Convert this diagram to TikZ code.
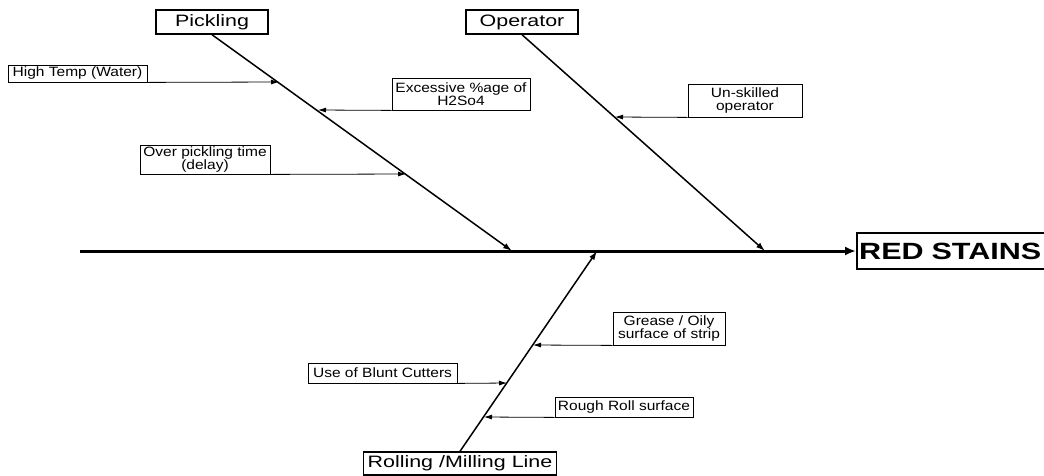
\documentclass[tikz,border=0pt]{standalone}
\usepackage{fontspec}
\setmainfont{Liberation Sans}
\newfontfamily\smf[FakeStretch=1.15]{Liberation Sans}
\newfontfamily\hdf[FakeStretch=1.3]{Liberation Sans}
\usetikzlibrary{arrows.meta}
\begin{document}
\begin{tikzpicture}[x=1pt,y=-1pt,
  cause/.style={draw,line width=0.8pt,inner sep=0pt,align=center,font=\smf\fontsize{13.5}{13.5}\selectfont},
  head/.style={draw,line width=1.4pt,inner sep=0pt,align=center,font=\hdf\fontsize{16.5}{16.5}\selectfont},
  effect/.style={draw,line width=2.4pt,inner sep=0pt,anchor=west,font=\hdf\bfseries\fontsize{23.5}{23.5}\selectfont},
  bone/.style={line width=1.5pt,-{Latex[length=9pt,width=6pt]}},
  sub/.style={line width=0.8pt,-{Latex[length=8pt,width=5pt]}},
  spine/.style={line width=3pt,-{Latex[length=11pt,width=9pt]}}]
\useasboundingbox (0,0) rectangle (1044,475);
% effect
\node[effect,minimum height=36pt,text width=260pt] (rs) at (856,251) {\hspace{2pt}RED STAINS};
\coordinate (tail) at (80,251);
% headers
\node[head,minimum width=112pt,minimum height=24pt] (pk) at (212,22) {Pickling};
\node[head,minimum width=112pt,minimum height=24pt] (op) at (522,22) {Operator};
\node[head,minimum width=193pt,minimum height=23pt] (rl) at (460,463.5) {Rolling /Milling Line};
% bone ends on spine
\coordinate (pkend) at (512,251);
\coordinate (opend) at (765,251);
\coordinate (rlend) at (597,251);
% spine and bones
\draw[spine] (tail) -- (rs.west);
\draw[bone] (pk.south) -- (pkend);
\draw[bone] (op.south) -- (opend);
\draw[bone] (rl.north) -- (rlend);
% causes
\node[cause,minimum width=139pt,minimum height=17pt] (ht) at (77.5,73.5) {High Temp (Water)};
\node[cause,minimum width=138pt,minimum height=32pt] (ex) at (461,94) {Excessive \%age of\\H2So4};
\node[cause,minimum width=130pt,minimum height=29pt] (ov) at (205,159.5) {Over pickling time\\(delay)};
\node[cause,minimum width=114pt,minimum height=33pt] (un) at (745,100.5) {Un-skilled\\operator};
\node[cause,minimum width=112pt,minimum height=33pt] (gr) at (669,328.5) {Grease / Oily\\surface of strip};
\node[cause,minimum width=149pt,minimum height=20pt] (bl) at (382.5,373) {Use of Blunt Cutters};
\node[cause,minimum width=138pt,minimum height=20pt] (ro) at (624,407) {Rough Roll surface};
% points on bones
\coordinate (htp) at (279,82);
\coordinate (exp) at (318,110);
\coordinate (ovp) at (406,174);
\coordinate (unp) at (615,117);
\coordinate (grp) at (533,345);
\coordinate (blp) at (507,383);
\coordinate (rop) at (484,417);
\draw[sub] (ht.south east) -- (htp);
\draw[sub] (ex.south west) -- (exp);
\draw[sub] (ov.south east) -- (ovp);
\draw[sub] (un.south west) -- (unp);
\draw[sub] (gr.south west) -- (grp);
\draw[sub] (bl.south east) -- (blp);
\draw[sub] (ro.south west) -- (rop);
\end{tikzpicture}
\end{document}
